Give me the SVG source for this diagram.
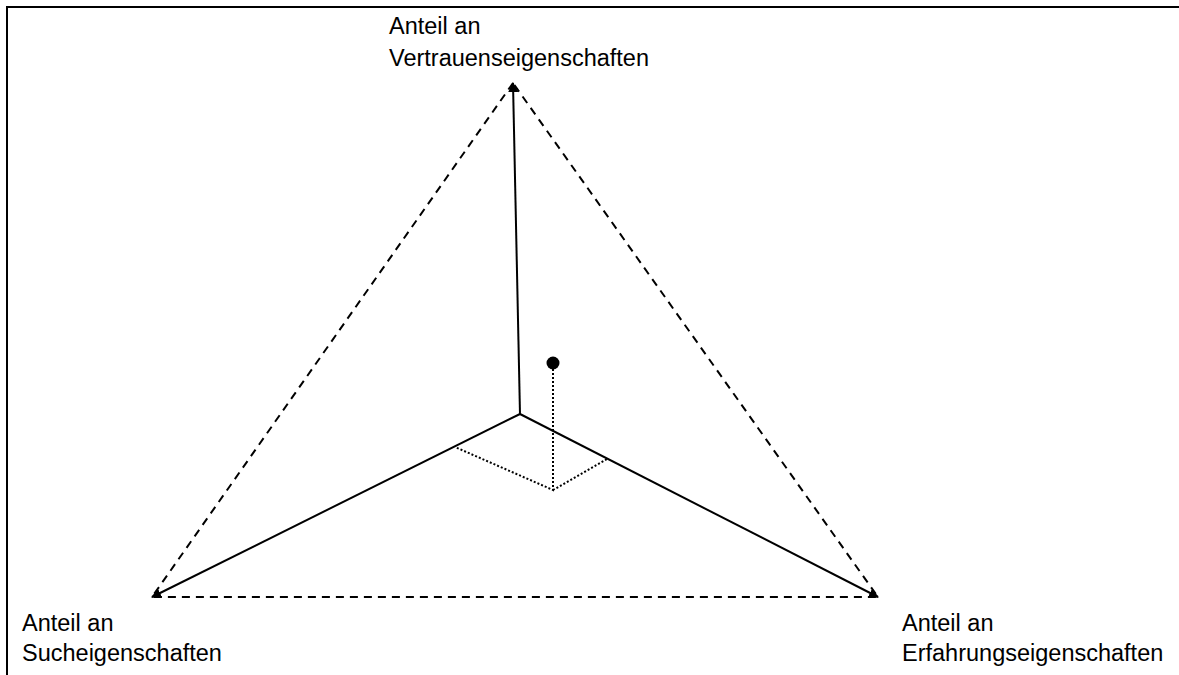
<svg xmlns="http://www.w3.org/2000/svg" width="1179" height="675" viewBox="0 0 1179 675">
  <style>
    .label { font-family: "Liberation Sans", Arial, sans-serif; font-size: 23.5px; fill: #000; }
    .axis { stroke: #000; stroke-width: 2; fill: none; }
    .hull { stroke: #000; stroke-width: 2; stroke-dasharray: 8 6; fill: none; }
    .proj { stroke: #000; stroke-width: 2; stroke-dasharray: 2 2; fill: none; }
  </style>
  <defs>
    <marker id="tip" viewBox="0 0 10 10" refX="9" refY="5" markerWidth="5" markerHeight="5" orient="auto" markerUnits="strokeWidth">
      <path d="M0,0 L10,5 L0,10 Z" fill="#000"/>
    </marker>
  </defs>
  <rect width="1179" height="675" fill="#fff"/>
  <!-- frame: left and top edges -->
  <path d="M7,675 V7 H1179" stroke="#000" stroke-width="2" fill="none"/>

  <g id="connectors">
    <!-- dashed outer triangle -->
    <path class="hull" d="M513,83 L152,597 L878,597 Z"/>
    <!-- axes from the common origin -->
    <line class="axis" x1="520" y1="414" x2="513" y2="83" marker-end="url(#tip)"/>
    <line class="axis" x1="520" y1="414" x2="152" y2="597" marker-end="url(#tip)"/>
    <line class="axis" x1="520" y1="414" x2="878" y2="597" marker-end="url(#tip)"/>
    <!-- projection of the point onto the base plane -->
    <path class="proj" d="M553,369 V490 L455,447 M553,490 L607,459"/>
  </g>

  <g id="point">
    <circle cx="553" cy="363" r="6.5" fill="#000"/>
  </g>

  <g id="label-vertrauen">
    <text class="label" x="389" y="34">Anteil an</text>
    <text class="label" x="389" y="66">Vertrauenseigenschaften</text>
  </g>
  <g id="label-such">
    <text class="label" x="22" y="631">Anteil an</text>
    <text class="label" x="22" y="661">Sucheigenschaften</text>
  </g>
  <g id="label-erfahrung">
    <text class="label" x="902" y="631">Anteil an</text>
    <text class="label" x="902" y="661">Erfahrungseigenschaften</text>
  </g>
</svg>
